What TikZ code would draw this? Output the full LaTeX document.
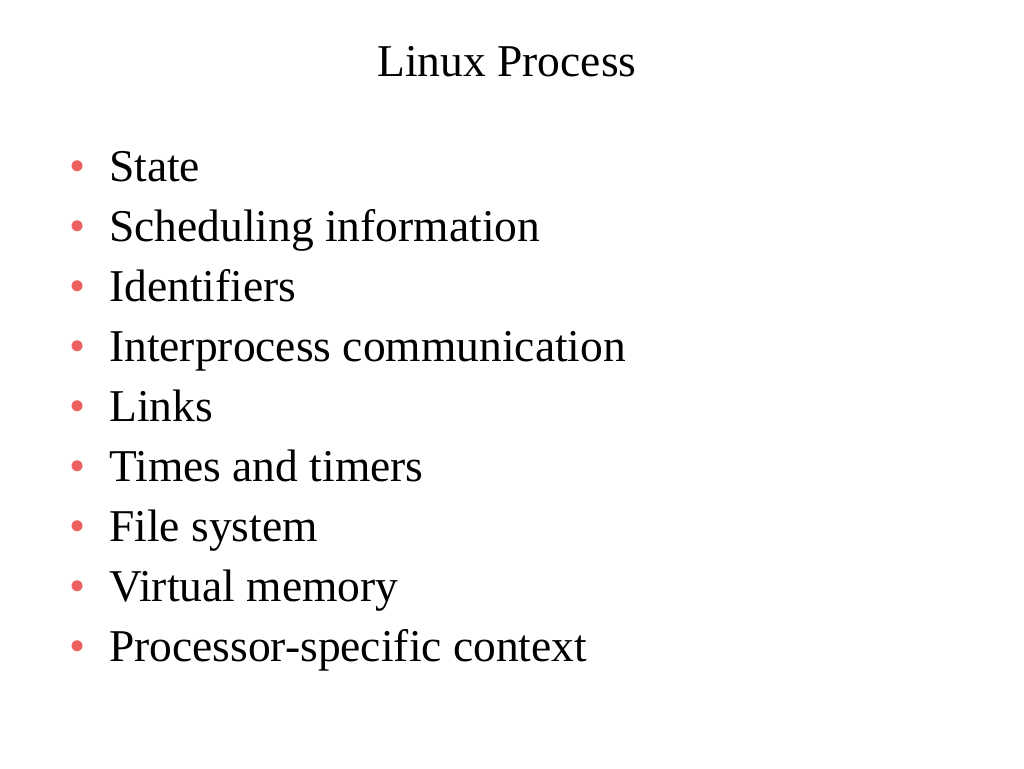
\documentclass[tikz,border=0pt]{standalone}
\usepackage{fontspec}
\setmainfont{Liberation Serif}
\definecolor{bulletred}{RGB}{236,96,96}
\tikzset{
  item/.style={anchor=base west, inner sep=0pt, font=\fontsize{45.5}{52}\selectfont},
  dot/.style={anchor=base, inner sep=0pt, text=bulletred, font=\fontsize{46}{52}\selectfont}
}
\begin{document}
\begin{tikzpicture}[x=1pt,y=-1pt]
  \useasboundingbox (0,0) rectangle (1024,768);
  \node[anchor=base, inner sep=0pt, font=\fontsize{45.5}{52}\selectfont] (title) at (507,77) {Linux Process};
  \foreach \txt [count=\i] in {State, Scheduling information, Identifiers,
      Interprocess communication, Links, Times and timers, File system,
      Virtual memory, Processor-specific context}{
    \node[dot] (b\i) at (78,{121+60*\i}) {•};
    \node[item] (t\i) at (109,{121+60*\i}) {\txt};
  }
\end{tikzpicture}
\end{document}
